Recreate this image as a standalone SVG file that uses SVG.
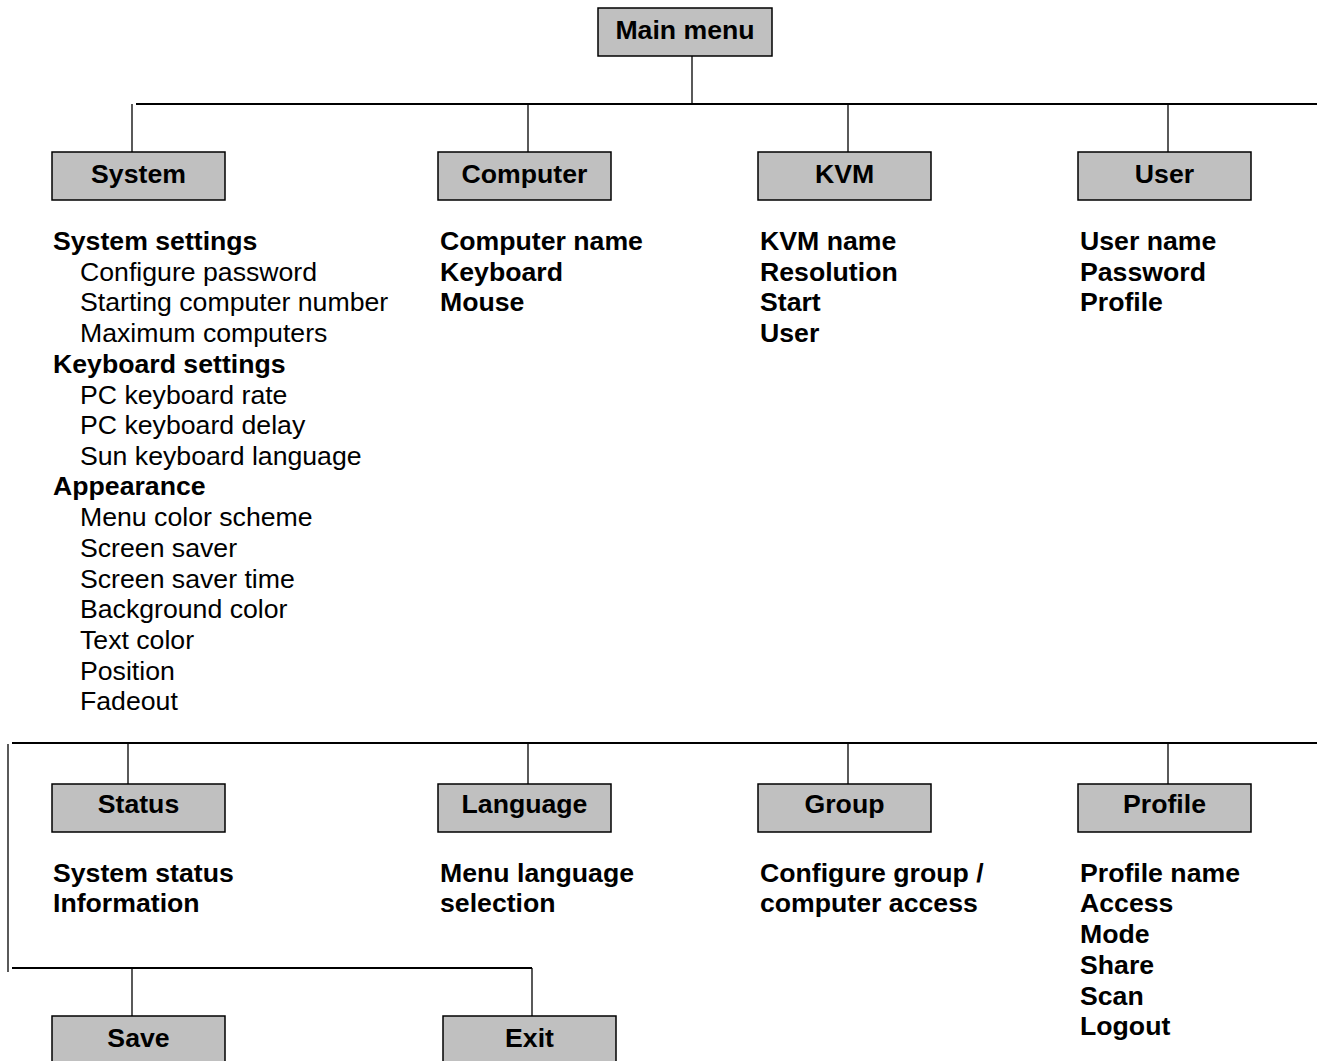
<svg xmlns="http://www.w3.org/2000/svg" width="1317" height="1061" viewBox="0 0 1317 1061">
<style>
.box{fill:#c0c0c0;stroke:#000;stroke-width:1.5}
.lbl{font-family:"Liberation Sans",Arial,sans-serif;font-size:26.67px;font-weight:bold;text-anchor:middle;fill:#000}
.b{font-family:"Liberation Sans",Arial,sans-serif;font-size:26.67px;font-weight:bold;fill:#000}
.r{font-family:"Liberation Sans",Arial,sans-serif;font-size:26.67px;fill:#000}
.bus{stroke:#000;stroke-width:2.2;fill:none}
.ln{stroke:#000;stroke-width:1.3;fill:none}
</style>
<g id="connectors">
<line class="ln" x1="692" y1="56" x2="692" y2="104"/>
<line class="bus" x1="136" y1="104" x2="1317" y2="104"/>
<line class="ln" x1="132" y1="104" x2="132" y2="152"/>
<line class="ln" x1="528" y1="104" x2="528" y2="152"/>
<line class="ln" x1="848" y1="104" x2="848" y2="152"/>
<line class="ln" x1="1168" y1="104" x2="1168" y2="152"/>
<line class="bus" x1="12" y1="743" x2="1317" y2="743"/>
<line class="ln" x1="8" y1="744" x2="8" y2="972"/>
<line class="ln" x1="128" y1="743" x2="128" y2="784"/>
<line class="ln" x1="528" y1="743" x2="528" y2="784"/>
<line class="ln" x1="848" y1="743" x2="848" y2="784"/>
<line class="ln" x1="1168" y1="743" x2="1168" y2="784"/>
<line class="bus" x1="12" y1="968" x2="532" y2="968"/>
<line class="ln" x1="132" y1="968" x2="132" y2="1016"/>
<line class="ln" x1="532" y1="968" x2="532" y2="1016"/>
</g>
<g id="main-menu"><rect class="box" x="598" y="8" width="174" height="48"/><text class="lbl" x="685" y="39">Main menu</text></g>
<g id="system"><rect class="box" x="52" y="152" width="173" height="48"/><text class="lbl" x="138.5" y="183">System</text>
<text class="b" x="53" y="250">System settings</text>
<text class="r" x="80" y="281">Configure password</text>
<text class="r" x="80" y="311">Starting computer number</text>
<text class="r" x="80" y="342">Maximum computers</text>
<text class="b" x="53" y="373">Keyboard settings</text>
<text class="r" x="80" y="404">PC keyboard rate</text>
<text class="r" x="80" y="434">PC keyboard delay</text>
<text class="r" x="80" y="465">Sun keyboard language</text>
<text class="b" x="53" y="495">Appearance</text>
<text class="r" x="80" y="526">Menu color scheme</text>
<text class="r" x="80" y="557">Screen saver</text>
<text class="r" x="80" y="588">Screen saver time</text>
<text class="r" x="80" y="618">Background color</text>
<text class="r" x="80" y="649">Text color</text>
<text class="r" x="80" y="680">Position</text>
<text class="r" x="80" y="710">Fadeout</text>
</g>
<g id="computer"><rect class="box" x="438" y="152" width="173" height="48"/><text class="lbl" x="524.5" y="183">Computer</text>
<text class="b" x="440" y="250">Computer name</text>
<text class="b" x="440" y="281">Keyboard</text>
<text class="b" x="440" y="311">Mouse</text>
</g>
<g id="kvm"><rect class="box" x="758" y="152" width="173" height="48"/><text class="lbl" x="844.5" y="183">KVM</text>
<text class="b" x="760" y="250">KVM name</text>
<text class="b" x="760" y="281">Resolution</text>
<text class="b" x="760" y="311">Start</text>
<text class="b" x="760" y="342">User</text>
</g>
<g id="user"><rect class="box" x="1078" y="152" width="173" height="48"/><text class="lbl" x="1164.5" y="183">User</text>
<text class="b" x="1080" y="250">User name</text>
<text class="b" x="1080" y="281">Password</text>
<text class="b" x="1080" y="311">Profile</text>
</g>
<g id="status"><rect class="box" x="52" y="784" width="173" height="48"/><text class="lbl" x="138.5" y="813">Status</text>
<text class="b" x="53" y="882">System status</text>
<text class="b" x="53" y="912">Information</text>
</g>
<g id="language"><rect class="box" x="438" y="784" width="173" height="48"/><text class="lbl" x="524.5" y="813">Language</text>
<text class="b" x="440" y="882">Menu language</text>
<text class="b" x="440" y="912">selection</text>
</g>
<g id="group"><rect class="box" x="758" y="784" width="173" height="48"/><text class="lbl" x="844.5" y="813">Group</text>
<text class="b" x="760" y="882">Configure group /</text>
<text class="b" x="760" y="912">computer access</text>
</g>
<g id="profile"><rect class="box" x="1078" y="784" width="173" height="48"/><text class="lbl" x="1164.5" y="813">Profile</text>
<text class="b" x="1080" y="882">Profile name</text>
<text class="b" x="1080" y="912">Access</text>
<text class="b" x="1080" y="943">Mode</text>
<text class="b" x="1080" y="974">Share</text>
<text class="b" x="1080" y="1005">Scan</text>
<text class="b" x="1080" y="1035">Logout</text>
</g>
<g id="save"><rect class="box" x="52" y="1016" width="173" height="60"/><text class="lbl" x="138.5" y="1047">Save</text></g>
<g id="exit"><rect class="box" x="443" y="1016" width="173" height="60"/><text class="lbl" x="529.5" y="1047">Exit</text></g>
</svg>
